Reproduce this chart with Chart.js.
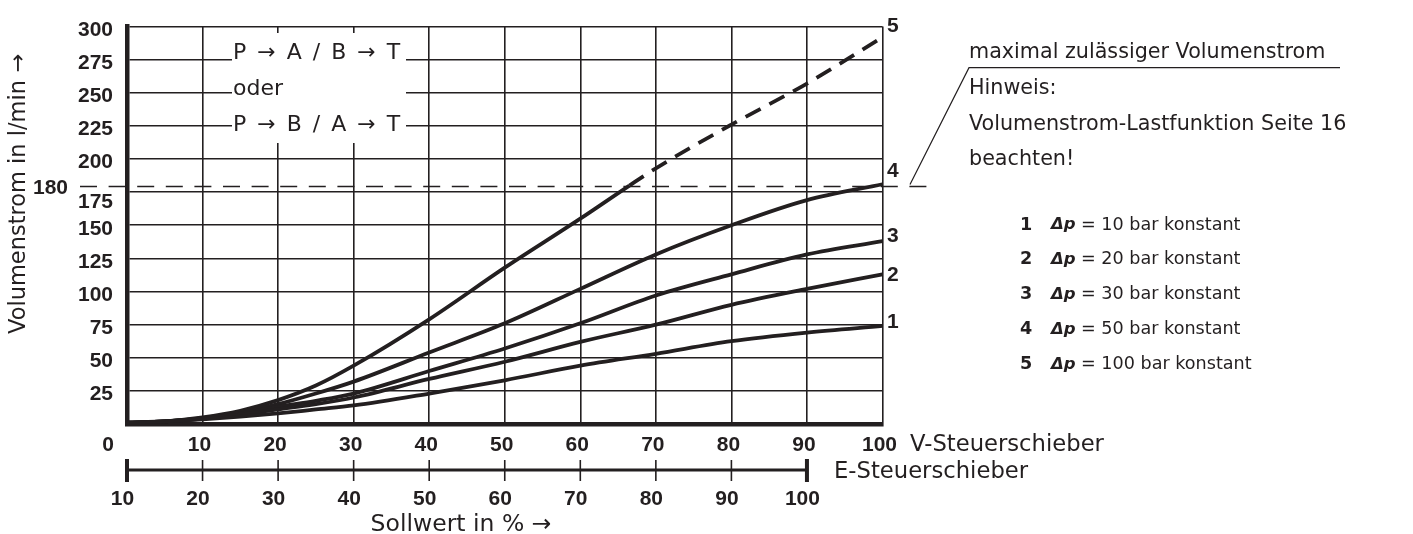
<!DOCTYPE html>
<html>
<head>
<meta charset="utf-8">
<title>Volumenstrom – Sollwert</title>
<script src="https://cdn.jsdelivr.net/npm/chart.js@4/dist/chart.umd.min.js"></script>
<style>
  html, body { margin: 0; padding: 0; background: #fff; }
  #wrap { position: relative; width: 1413px; height: 534px; }
</style>
</head>
<body>
<div id="wrap"><canvas id="c"></canvas></div>
<script>
// Sollwert (V-Steuerschieber, %) and flow (l/min) per constant pressure drop
const sollwert      = [0, 5, 10, 15, 20, 25, 30, 40, 50, 60, 70, 80, 90, 100];
const sollwert100   = [0, 5, 10, 15, 20, 25, 30, 40, 50, 60, 66.5, 70, 80, 90, 100];
const flow10bar     = [1, 2, 3.5, 5.5, 8, 11, 14, 23, 33, 44, 53, 62.5, 69, 74];
const flow20bar     = [1, 2, 4, 7, 11, 15, 20, 34, 47, 62, 75, 90, 102, 113];
const flow30bar     = [1, 2, 4, 8, 13, 17.5, 23, 40, 57, 76, 97, 113, 128, 138];
const flow50bar     = [1, 2, 4.5, 9, 15, 23, 32, 54, 76, 102, 128, 150, 169, 181];
const flow100bar    = [1, 2, 5, 10, 18, 29, 44, 79, 118, 155, 180, 193, 226, 257, 292];

const curveNames    = ['1', '2', '3', '4', '5'];
const pressureBar   = [10, 20, 30, 50, 100];
const maxFlow       = 180;                       // maximal zulässiger Volumenstrom
const vTicks        = [0, 10, 20, 30, 40, 50, 60, 70, 80, 90, 100];
const eTicks        = [10, 20, 30, 40, 50, 60, 70, 80, 90, 100];
const eShift        = 10;                        // E-Steuerschieber = V-Steuerschieber + 10 %
const yTicks        = [25, 50, 75, 100, 125, 150, 175, 200, 225, 250, 275, 300];

const INK  = '#231f20';
const NUM  = "'Liberation Sans', Arial, sans-serif";
const SANS = "'DejaVu Sans', sans-serif";

const pts = (xs, ys) => xs.map((x, i) => ({ x, y: ys[i] }));

const curveStyle = {
  borderColor: INK,
  borderWidth: 3.8,
  pointRadius: 0,
  fill: false,
  cubicInterpolationMode: 'monotone',
  borderCapStyle: 'butt',
  borderJoinStyle: 'round'
};

function text(ctx, s, x, y, font, align, baseline) {
  ctx.font = font;
  ctx.textAlign = align || 'left';
  ctx.textBaseline = baseline || 'middle';
  ctx.fillText(s, x, y);
}

const decorations = {
  id: 'decorations',
  beforeDatasetsDraw(chart) {
    const { ctx, scales: { y } } = chart;
    ctx.save();
    // white panel behind the connection labels
    ctx.fillStyle = '#fff';
    ctx.fillRect(232, 33, 174, 110);

    // dashed limit line at the maximum permissible flow
    const yl = Math.round(y.getPixelForValue(maxFlow)) + 0.5;
    ctx.strokeStyle = INK;
    ctx.lineWidth = 1.5;
    ctx.setLineDash([17, 11.6]);
    ctx.beginPath();
    ctx.moveTo(80, yl);
    ctx.lineTo(927, yl);
    ctx.stroke();
    ctx.setLineDash([]);
    ctx.restore();
  },
  afterDraw(chart) {
    const { ctx, scales: { x, y } } = chart;
    ctx.save();
    ctx.fillStyle = INK;
    ctx.strokeStyle = INK;

    const bold = (s) => `bold ${s}px ${NUM}`;

    // special y labels
    text(ctx, '180', 68, y.getPixelForValue(maxFlow) + 3, bold(21), 'right');
    text(ctx, '175', 113, y.getPixelForValue(175) + 10, bold(21), 'right');
    text(ctx, '0', x.getPixelForValue(0) - 19, 445, bold(21), 'center');

    // y axis title
    ctx.save();
    ctx.translate(25, 194);
    ctx.rotate(-Math.PI / 2);
    text(ctx, 'Volumenstrom in l/min →', 0, 0, `22.5px ${SANS}`, 'center', 'alphabetic');
    ctx.restore();

    // connection labels
    const boxFont = `22px ${SANS}`;
    const sp = '\u2002';
    text(ctx, ['P', '→', 'A', '/', 'B', '→', 'T'].join(sp), 233, 53, boxFont);
    text(ctx, 'oder', 233, 89, boxFont);
    text(ctx, ['P', '→', 'B', '/', 'A', '→', 'T'].join(sp), 233, 125, boxFont);

    // curve numbers at the right edge
    const endLabelAt = [322.7, 275, 236.7, 171.7, 26.7];
    curveNames.forEach((n, i) => text(ctx, n, 887, endLabelAt[i], bold(21)));

    // leader to the maximum flow note
    const yl = y.getPixelForValue(maxFlow);
    ctx.lineWidth = 1.2;
    ctx.beginPath();
    ctx.moveTo(910, yl - 1);
    ctx.lineTo(969, 67.7);
    ctx.lineTo(1340, 67.7);
    ctx.stroke();

    const noteFont = `20.7px ${SANS}`;
    text(ctx, 'maximal zulässiger Volumenstrom', 969, 53, noteFont);
    text(ctx, 'Hinweis:', 969, 89, noteFont);
    text(ctx, 'Volumenstrom-Lastfunktion Seite 16', 969, 125, noteFont);
    text(ctx, 'beachten!', 969, 160, noteFont);

    // legend
    const rowY = [225, 259.5, 294.5, 329.5, 364.5];
    curveNames.forEach((n, i) => {
      text(ctx, n, 1020, rowY[i], `bold 17.6px ${SANS}`);
      text(ctx, 'Δp', 1051, rowY[i], `italic bold 16.5px ${SANS}`);
      text(ctx, `= ${pressureBar[i]} bar konstant`, 1081, rowY[i], `17.6px ${SANS}`);
    });

    // axis names
    text(ctx, 'V-Steuerschieber', 910, 445, `22.7px ${SANS}`);
    text(ctx, 'E-Steuerschieber', 834, 472, `22.7px ${SANS}`);
    text(ctx, 'Sollwert in % →', 461, 525, `23.5px ${SANS}`, 'center');

    // E-Steuerschieber scale, positioned through the V scale
    const ey = 470;
    const ex0 = x.getPixelForValue(eTicks[0] - eShift);
    const ex1 = x.getPixelForValue(eTicks[eTicks.length - 1] - eShift);
    ctx.lineWidth = 3;
    ctx.beginPath();
    ctx.moveTo(ex0, ey);
    ctx.lineTo(ex1, ey);
    ctx.stroke();
    eTicks.forEach((e, i) => {
      const px = x.getPixelForValue(e - eShift);
      const end = i === 0 || i === eTicks.length - 1;
      ctx.lineWidth = end ? 4 : 1.6;
      ctx.beginPath();
      ctx.moveTo(px, ey - (end ? 11 : 10));
      ctx.lineTo(px, ey + (end ? 12 : 11));
      ctx.stroke();
      text(ctx, String(e), px - 4.5, 499, bold(21), 'center');
    });
    ctx.restore();
  }
};

new Chart(document.getElementById('c'), {
  type: 'line',
  data: {
    datasets: [
      { ...curveStyle, label: '1', data: pts(sollwert, flow10bar) },
      { ...curveStyle, label: '2', data: pts(sollwert, flow20bar) },
      { ...curveStyle, label: '3', data: pts(sollwert, flow30bar) },
      { ...curveStyle, label: '4', data: pts(sollwert, flow50bar) },
      { ...curveStyle, label: '5', data: pts(sollwert100, flow100bar),
        segment: { borderDash: (c) => (c.p0.parsed.y >= maxFlow ? [17, 10] : undefined) } }
    ]
  },
  options: {
    responsive: true,
    maintainAspectRatio: false,
    animation: false,
    events: [],
    layout: { padding: { left: 0, top: 14, right: 530.5, bottom: 0 } },
    plugins: { legend: { display: false }, tooltip: { enabled: false } },
    scales: {
      x: {
        type: 'linear',
        min: 0, max: 100,
        afterFit: (s) => { s.height = 110; },
        afterBuildTicks: (s) => { s.ticks = vTicks.map((v) => ({ value: v })); },
        ticks: {
          callback: (v) => (v === 0 ? '' : String(v)),
          color: INK,
          padding: 9,
          labelOffset: -3,
          maxRotation: 0,
          font: { family: NUM, size: 21, weight: 'bold' }
        },
        grid: { color: INK, lineWidth: 1.6, drawTicks: false },
        border: { color: INK, width: 4.5 }
      },
      y: {
        min: 0, max: 300,
        afterFit: (s) => { s.width = 127; },
        afterBuildTicks: (s) => { s.ticks = [0, ...yTicks].map((v) => ({ value: v })); },
        ticks: {
          callback: (v) => (v === 0 || v === 175 ? '' : String(v)),
          color: INK,
          padding: 14,
          labelOffset: 3.5,
          font: { family: NUM, size: 21, weight: 'bold' }
        },
        grid: { color: INK, lineWidth: 1.6, drawTicks: false },
        border: { color: INK, width: 4.5 }
      }
    }
  },
  plugins: [decorations]
});
</script>
</body>
</html>
